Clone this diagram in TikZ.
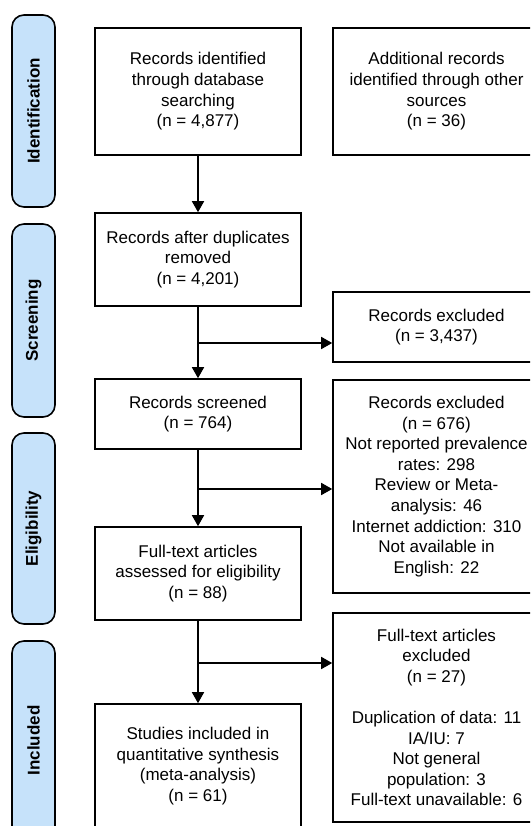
\documentclass[tikz,border=0pt]{standalone}
\usepackage{fontspec}
\setmainfont{Liberation Sans}
\usetikzlibrary{arrows.meta}
\definecolor{barblue}{RGB}{198,226,250}
\begin{document}
\begin{tikzpicture}[x=1pt,y=-1pt,
  box/.style={draw=black,line width=1.6pt,fill=white,align=center,inner sep=2pt,
    font=\fontsize{17}{20.6}\selectfont},
  bar/.style={draw=black,line width=1.6pt,fill=barblue,rounded corners=12pt,rotate=90,
    minimum height=43pt,inner sep=0pt,font=\fontsize{17}{20.6}\selectfont\bfseries},
  arr/.style={line width=1.6pt,-{Triangle[length=11pt,width=12pt]}},
  ln/.style={line width=1.6pt}]
\useasboundingbox (0,0) rectangle (530,826);
\clip (0,0) rectangle (530,826);
% phase bars
\node[bar,minimum width=192pt] (bident) at (33.5,111) {Identification};
\node[bar,minimum width=193pt] (bscreen) at (33.5,320.5) {Screening};
\node[bar,minimum width=191pt] (belig) at (33.5,528.5) {Eligibility};
\node[bar,minimum width=199pt] (bincl) at (33.5,740.5) {\raisebox{0pt}{Included}};
% main column
\node[box,minimum width=206pt,minimum height=127pt] (db) at (198,91.5)
  {Records identified\\through database\\searching\\(n = 4,877)};
\node[box,minimum width=207pt,minimum height=127pt] (other) at (436.5,91.5)
  {Additional records\\identified through other\\sources\\(n = 36)};
\node[box,minimum width=206pt,minimum height=93pt] (dup) at (198,259.5)
  {Records after duplicates\\removed\\(n = 4,201)};
\node[box,minimum width=207pt,minimum height=70pt] (ex1) at (436.5,327)
  {Records excluded\\(n = 3,437)};
\node[box,minimum width=206pt,minimum height=70pt] (scr) at (198,414)
  {Records screened\\(n = 764)};
\node[box,minimum width=207pt,minimum height=213pt] (ex2) at (436.5,486.5)
  {Records excluded\\(n = 676)\\Not reported prevalence\\rates: 298\\Review or Meta-\\analysis: 46\\Internet addiction: 310\\Not available in\\English: 22};
\node[box,minimum width=206pt,minimum height=93pt] (ft) at (198,573.5)
  {Full-text articles\\assessed for eligibility\\(n = 88)};
\node[box,minimum width=207pt,minimum height=209pt] (ex3) at (436.5,717.5)
  {Full-text articles\\excluded\\(n = 27)\\[20.6pt]Duplication of data: 11\\IA/IU: 7\\Not general\\population: 3\\Full-text unavailable: 6};
\node[box,minimum width=206pt,minimum height=124pt] (inc) at (198,766)
  {Studies included in\\quantitative synthesis\\(meta-analysis)\\(n = 61)};
% connectors
\coordinate (j1) at (198,343);
\coordinate (j2) at (198,489);
\coordinate (j3) at (198,663);
\draw[arr] (db.south) -- (dup.north);
\draw[arr] (dup.south) -- (scr.north);
\draw[arr] (j1) -- (j1 -| ex1.west);
\draw[arr] (scr.south) -- (ft.north);
\draw[arr] (j2) -- (j2 -| ex2.west);
\draw[arr] (ft.south) -- (inc.north);
\draw[arr] (j3) -- (j3 -| ex3.west);
\end{tikzpicture}
\end{document}
